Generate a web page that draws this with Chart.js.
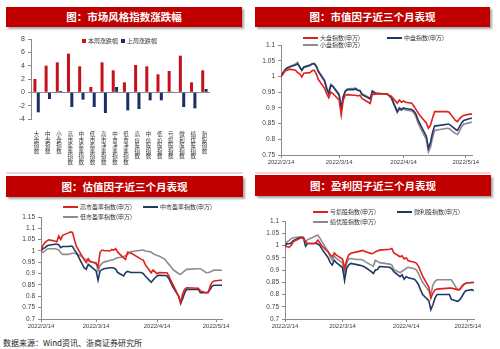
<!DOCTYPE html>
<html>
<head>
<meta charset="utf-8">
<script src="https://cdn.jsdelivr.net/npm/chart.js@4.4.1/dist/chart.umd.min.js"></script>
<style>
  body { margin: 0; width: 500px; height: 349px; position: relative; overflow: hidden; background: #fff;
         font-family: "Liberation Sans", "Noto Sans CJK SC", sans-serif; }
  .banner { position: absolute; background: #c00000; color: #fff; text-align: center;
            font: bold 10.5px "Noto Sans CJK SC", sans-serif; box-shadow: 2px 2px 2px rgba(0,0,0,.35); }
  .rule { position: absolute; height: 2px; background: #f7d4d4; }
  .box { position: absolute; }
  .lg { position: absolute; font: 6px "Noto Sans CJK SC", sans-serif; color: #333; white-space: nowrap; line-height: 7px; }
  .lg i { display: inline-block; vertical-align: middle; margin-right: 2px; }
  .src { position: absolute; left: 3px; top: 337px; font: 8px "Noto Sans CJK SC", sans-serif; color: #222; }
</style>
</head>
<body>

<div class="banner" style="left:6px;top:7px;width:236px;height:20px;line-height:20px">图：市场风格指数涨跌幅</div>
<div class="banner" style="left:255px;top:7px;width:235px;height:20px;line-height:20px">图：市值因子近三个月表现</div>
<div class="banner" style="left:6px;top:176px;width:237px;height:21px;line-height:21px">图：估值因子近三个月表现</div>
<div class="banner" style="left:255px;top:175px;width:236px;height:21px;line-height:21px">图：盈利因子近三个月表现</div>
<div class="rule" style="left:6px;top:172px;width:237px"></div>
<div class="rule" style="left:255px;top:172px;width:236px"></div>

<div class="box" style="left:0;top:30px"><canvas id="styleChart" width="250" height="140"></canvas></div>
<div class="box" style="left:250px;top:30px"><canvas id="sizeChart" width="250" height="140"></canvas></div>
<div class="box" style="left:0;top:200px"><canvas id="peChart" width="250" height="134"></canvas></div>
<div class="box" style="left:250px;top:200px"><canvas id="profitChart" width="250" height="134"></canvas></div>

<div class="src">数据来源：Wind资讯、浙商证券研究所</div>

<script>
// --- bar chart: weekly change by style index ---
const styleNames = ['大盘指数', '中盘指数', '小盘指数', '高市盈率指数', '中市盈率指数', '低市盈率指数',
  '高市净率指数', '中市净率指数', '低市净率指数', '高价股指数', '中价股指数', '低价股指数',
  '亏损股指数', '微利股指数', '绩优股指数', '新股指数'];
const thisWeek = [2.0, 4.0, 4.5, 5.8, 3.9, 0.8, 4.5, 3.3, 1.5, 4.1, 3.9, 2.7, 3.2, 5.5, 1.5, 3.3];
const lastWeek = [-3.0, -1.0, 0.2, -2.2, -1.1, -2.2, -3.1, 0.8, -2.7, -2.5, -1.2, -1.2, 0.1, -2.2, -2.4, 0.5];

// --- line charts: trading days and normalised index levels ---
const tradeDates = [
  '2022-02-14', '2022-02-15', '2022-02-16', '2022-02-17', '2022-02-18',
  '2022-02-21', '2022-02-22', '2022-02-23', '2022-02-24', '2022-02-25',
  '2022-02-28', '2022-03-01', '2022-03-02', '2022-03-03', '2022-03-04',
  '2022-03-07', '2022-03-08', '2022-03-09', '2022-03-10', '2022-03-11',
  '2022-03-14', '2022-03-15', '2022-03-16', '2022-03-17', '2022-03-18',
  '2022-03-21', '2022-03-22', '2022-03-23', '2022-03-24', '2022-03-25',
  '2022-03-28', '2022-03-29', '2022-03-30', '2022-03-31', '2022-04-01',
  '2022-04-06', '2022-04-07', '2022-04-08',
  '2022-04-11', '2022-04-12', '2022-04-13', '2022-04-14', '2022-04-15',
  '2022-04-18', '2022-04-19', '2022-04-20', '2022-04-21', '2022-04-22',
  '2022-04-25', '2022-04-26', '2022-04-27', '2022-04-28', '2022-04-29',
  '2022-05-05', '2022-05-06',
  '2022-05-09', '2022-05-10', '2022-05-11', '2022-05-12', '2022-05-13',
  '2022-05-16', '2022-05-17'];
const dateTicks = ['2022-02-14', '2022-03-14', '2022-04-14', '2022-05-14'];

const bigCap = [
  1.000, 1.008, 1.018, 1.020, 1.023, 1.020, 1.012, 1.008, 0.998, 1.010,
  1.012, 1.018, 1.020, 1.008, 0.990, 0.962, 0.945, 0.932, 0.950, 0.945,
  0.925, 0.877, 0.925, 0.940, 0.942, 0.940, 0.940, 0.938, 0.940, 0.930,
  0.918, 0.914, 0.945, 0.942, 0.946, 0.944, 0.940, 0.938,
  0.915, 0.925, 0.918, 0.922, 0.918, 0.915, 0.905, 0.895, 0.885, 0.875,
  0.852, 0.835, 0.845, 0.868, 0.888, 0.888, 0.886,
  0.860, 0.856, 0.865, 0.872, 0.876, 0.880, 0.880];
const midCap = [
  1.000, 1.012, 1.022, 1.028, 1.030, 1.036, 1.040, 1.030, 1.020, 1.030,
  1.036, 1.040, 1.040, 1.032, 1.015, 0.985, 0.960, 0.945, 0.972, 0.968,
  0.940, 0.898, 0.935, 0.952, 0.958, 0.958, 0.960, 0.955, 0.955, 0.942,
  0.932, 0.928, 0.952, 0.948, 0.945, 0.945, 0.940, 0.935,
  0.888, 0.900, 0.895, 0.900, 0.898, 0.895, 0.890, 0.880, 0.862, 0.848,
  0.810, 0.772, 0.790, 0.822, 0.842, 0.848, 0.848,
  0.832, 0.828, 0.840, 0.852, 0.860, 0.866, 0.867];
const smallCap = [
  1.000, 1.010, 1.020, 1.026, 1.030, 1.040, 1.045, 1.030, 1.018, 1.028,
  1.034, 1.040, 1.042, 1.035, 1.018, 0.988, 0.965, 0.950, 0.975, 0.970,
  0.945, 0.900, 0.938, 0.955, 0.960, 0.962, 0.963, 0.958, 0.955, 0.945,
  0.935, 0.930, 0.955, 0.950, 0.946, 0.944, 0.938, 0.932,
  0.885, 0.895, 0.892, 0.896, 0.893, 0.890, 0.884, 0.872, 0.852, 0.838,
  0.800, 0.760, 0.775, 0.805, 0.828, 0.835, 0.834,
  0.818, 0.815, 0.826, 0.840, 0.848, 0.853, 0.855];

const highPE = [
  1.000, 1.025, 1.037, 1.045, 1.049, 1.044, 1.040, 1.066, 1.051, 1.069,
  1.080, 1.084, 1.082, 1.050, 1.020, 0.975, 0.960, 0.949, 0.966, 0.955,
  0.945, 0.930, 0.993, 1.004, 1.002, 1.000, 1.007, 1.004, 1.010, 0.995,
  0.970, 0.963, 0.995, 0.993, 0.990, 0.963, 0.960, 0.940,
  0.904, 0.916, 0.908, 0.900, 0.905, 0.904, 0.904, 0.890, 0.870, 0.853,
  0.800, 0.772, 0.810, 0.831, 0.838, 0.836, 0.824,
  0.816, 0.816, 0.846, 0.862, 0.868, 0.871, 0.871];
const midPE = [
  1.000, 1.010, 1.015, 1.022, 1.025, 1.030, 1.030, 1.028, 1.015, 1.020,
  1.020, 1.022, 1.020, 1.005, 0.993, 0.941, 0.925, 0.919, 0.941, 0.934,
  0.912, 0.871, 0.912, 0.918, 0.922, 0.926, 0.926, 0.925, 0.919, 0.905,
  0.890, 0.905, 0.910, 0.907, 0.905, 0.905, 0.900, 0.890,
  0.862, 0.872, 0.882, 0.890, 0.893, 0.892, 0.890, 0.878, 0.860, 0.842,
  0.800, 0.768, 0.790, 0.815, 0.830, 0.830, 0.816,
  0.816, 0.820, 0.831, 0.845, 0.849, 0.849, 0.849];
const lowPE = [
  1.000, 0.993, 1.000, 1.008, 1.010, 1.010, 1.008, 1.005, 0.993, 0.985,
  0.985, 0.988, 0.990, 0.990, 0.988, 0.975, 0.965, 0.963, 0.958, 0.950,
  0.949, 0.912, 0.935, 0.945, 0.951, 0.958, 0.960, 0.962, 0.968, 0.970,
  0.975, 0.980, 0.985, 0.993, 0.998, 1.003, 1.004, 1.000,
  0.996, 0.988, 0.984, 0.980, 0.978, 0.963, 0.951, 0.941, 0.930, 0.919,
  0.900, 0.897, 0.905, 0.912, 0.919, 0.922, 0.922,
  0.904, 0.905, 0.907, 0.912, 0.916, 0.915, 0.915];

const lossStock = [
  1.000, 0.995, 0.993, 1.000, 1.015, 1.028, 1.032, 1.030, 1.015, 1.008,
  1.008, 1.011, 1.022, 1.010, 0.998, 0.974, 0.962, 0.954, 0.970, 0.961,
  0.945, 0.907, 0.940, 0.961, 0.968, 0.974, 0.976, 0.978, 0.980, 0.975,
  0.967, 0.968, 0.975, 0.978, 0.981, 0.985, 0.988, 0.970,
  0.954, 0.958, 0.945, 0.950, 0.938, 0.932, 0.927, 0.915, 0.895, 0.875,
  0.830, 0.785, 0.805, 0.818, 0.822, 0.826, 0.826,
  0.820, 0.820, 0.830, 0.840, 0.846, 0.849, 0.849];
const thinProfit = [
  1.000, 1.007, 1.007, 1.010, 1.020, 1.032, 1.033, 1.030, 0.997, 1.008,
  1.008, 1.008, 1.006, 1.000, 0.985, 0.950, 0.930, 0.920, 0.940, 0.930,
  0.910, 0.857, 0.907, 0.920, 0.927, 0.922, 0.920, 0.918, 0.915, 0.911,
  0.893, 0.886, 0.900, 0.902, 0.914, 0.911, 0.905, 0.893,
  0.873, 0.880, 0.862, 0.873, 0.868, 0.862, 0.853, 0.840, 0.819, 0.800,
  0.775, 0.738, 0.758, 0.785, 0.800, 0.800, 0.780,
  0.772, 0.778, 0.790, 0.805, 0.815, 0.820, 0.815];
const blueChip = [
  1.000, 1.015, 1.020, 1.028, 1.032, 1.035, 1.035, 1.035, 1.015, 1.024,
  1.035, 1.040, 1.042, 1.030, 1.015, 0.975, 0.955, 0.940, 0.957, 0.947,
  0.930, 0.880, 0.927, 0.945, 0.947, 0.943, 0.943, 0.943, 0.940, 0.934,
  0.920, 0.915, 0.940, 0.935, 0.930, 0.924, 0.920, 0.902,
  0.889, 0.895, 0.900, 0.907, 0.911, 0.905, 0.900, 0.885, 0.866, 0.850,
  0.815, 0.799, 0.839, 0.853, 0.860, 0.860, 0.860,
  0.819, 0.820, 0.835, 0.842, 0.846, 0.849, 0.849];

const RED = '#e0201e', NAVY = '#1f3864', GREY = '#8c8c8c';
const AXIS = '#8a8a8a', TXT = '#404040';

Chart.defaults.font.family = '"Liberation Sans", "Noto Sans CJK SC", sans-serif';
Chart.defaults.color = TXT;
Chart.defaults.animation = false;

const DAY = 86400000;
const base = Date.parse(tradeDates[0]);
const dayOf = d => (Date.parse(d) - base) / DAY;
const fmtDay = v => {
  const dt = new Date(base + v * DAY);
  return dt.getUTCFullYear() + '/' + (dt.getUTCMonth() + 1) + '/' + dt.getUTCDate();
};

// --- LEGENDS (html, next to each chart) ---
function legend(items) {
  items.forEach(it => {
    const div = document.createElement('div');
    div.className = 'lg';
    div.style.left = it.x + 'px';
    div.style.top = it.y + 'px';
    const mark = it.box
      ? `<i style="width:4px;height:4px;background:${it.color}"></i>`
      : `<i style="width:15px;height:2px;background:${it.color}"></i>`;
    div.innerHTML = mark + it.label;
    document.body.appendChild(div);
  });
}

// --- BAR CHART ---
new Chart(document.getElementById('styleChart'), {
  type: 'bar',
  data: {
    labels: styleNames.map(s => s.split('')),   // one character per line, stacked like the original
    datasets: [
      { label: '本周涨跌幅', data: thisWeek, backgroundColor: '#c5131b' },
      { label: '上周涨跌幅', data: lastWeek, backgroundColor: '#1b2f66' }
    ]
  },
  options: {
    responsive: false,
    categoryPercentage: 0.6,
    barPercentage: 0.9,
    layout: { padding: { top: 9, right: 40, left: 0, bottom: 0 } },
    plugins: { legend: { display: false }, tooltip: { enabled: false } },
    scales: {
      x: {
        grid: { display: false },
        border: { display: false },
        ticks: { font: { size: 5.5, lineHeight: 1 }, padding: 5, maxRotation: 0, autoSkip: false, color: '#333' },
        afterFit: s => { s.height = 51; }
      },
      y: {
        min: -4, max: 8,
        ticks: { stepSize: 2, font: { size: 7 }, padding: 3 },
        grid: {
          color: c => (c.tick && c.tick.value === 0 ? AXIS : 'transparent'),
          tickColor: AXIS, tickLength: 3, lineWidth: 1
        },
        border: { color: AXIS },
        afterFit: s => { s.width = 31; }
      }
    }
  }
});
legend([
  { label: '本周涨跌幅', color: '#c5131b', box: true, x: 82, y: 37 },
  { label: '上周涨跌幅', color: '#1b2f66', box: true, x: 121, y: 37 }
]);

// --- LINE CHARTS ---
function lineChart(id, series, yMin, yMax, box) {
  return new Chart(document.getElementById(id), {
    type: 'line',
    data: {
      datasets: series.map(s => ({
        label: s.label,
        data: s.values.map((v, i) => ({ x: dayOf(tradeDates[i]), y: v })),
        borderColor: s.color,
        borderWidth: 1.6,
        pointRadius: 0,
        tension: 0
      }))
    },
    options: {
      responsive: false,
      layout: { padding: { top: box.top, right: box.right, left: 0, bottom: 0 } },
      plugins: { legend: { display: false }, tooltip: { enabled: false } },
      scales: {
        x: {
          type: 'linear', min: 0, max: 92,
          afterBuildTicks: s => { s.ticks = dateTicks.map(d => ({ value: dayOf(d) })); },
          ticks: { callback: v => fmtDay(v), font: { size: 6 }, maxRotation: 0, autoSkip: false, padding: 1 },
          grid: { drawOnChartArea: false, color: AXIS, tickLength: 3 },
          border: { color: AXIS },
          afterFit: s => { s.height = box.xh; }
        },
        y: {
          min: yMin, max: yMax,
          ticks: { stepSize: 0.05, font: { size: 6.5 }, padding: 3, callback: v => String(parseFloat(v.toFixed(2))) },
          grid: { drawOnChartArea: false, color: AXIS, tickLength: 3 },
          border: { color: AXIS },
          afterFit: s => { s.width = box.yw; }
        }
      }
    }
  });
}

lineChart('sizeChart', [
  { label: '大盘指数(申万)', values: bigCap, color: RED },
  { label: '中盘指数(申万)', values: midCap, color: NAVY },
  { label: '小盘指数(申万)', values: smallCap, color: GREY }
], 0.75, 1.1, { top: 15, right: 28, yw: 31, xh: 15 });
legend([
  { label: '大盘指数(申万)', color: RED, x: 303, y: 34 },
  { label: '中盘指数(申万)', color: NAVY, x: 387, y: 34 },
  { label: '小盘指数(申万)', color: GREY, x: 303, y: 41 }
]);

lineChart('peChart', [
  { label: '高市盈率指数(申万)', values: highPE, color: RED },
  { label: '中市盈率指数(申万)', values: midPE, color: NAVY },
  { label: '低市盈率指数(申万)', values: lowPE, color: GREY }
], 0.7, 1.15, { top: 17, right: 28, yw: 41, xh: 15 });
legend([
  { label: '高市盈率指数(申万)', color: RED, x: 63, y: 203 },
  { label: '中市盈率指数(申万)', color: NAVY, x: 143, y: 203 },
  { label: '低市盈率指数(申万)', color: GREY, x: 63, y: 213 }
]);

lineChart('profitChart', [
  { label: '亏损股指数(申万)', values: lossStock, color: RED },
  { label: '微利股指数(申万)', values: thinProfit, color: NAVY },
  { label: '绩优股指数(申万)', values: blueChip, color: GREY }
], 0.7, 1.1, { top: 21, right: 26, yw: 35, xh: 15 });
legend([
  { label: '亏损股指数(申万)', color: RED, x: 313, y: 208 },
  { label: '微利股指数(申万)', color: NAVY, x: 397, y: 208 },
  { label: '绩优股指数(申万)', color: GREY, x: 313, y: 218 }
]);
</script>
</body>
</html>
